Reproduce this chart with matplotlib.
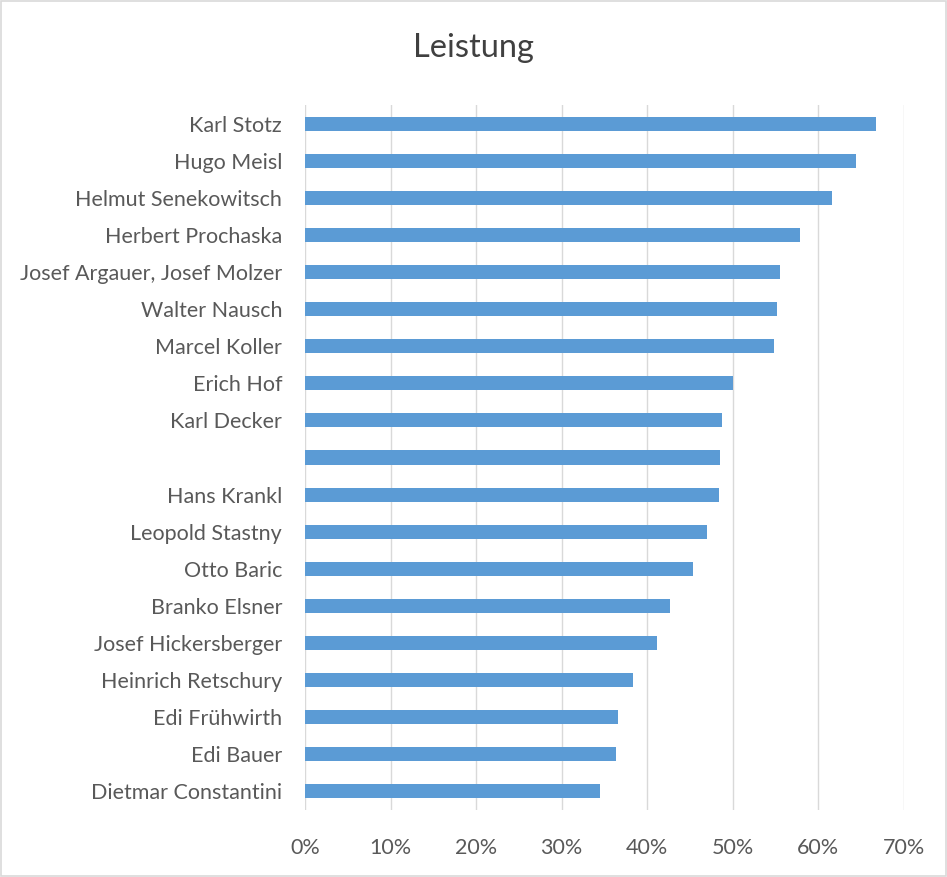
import matplotlib
matplotlib.use("Agg")
import matplotlib.pyplot as plt
from matplotlib.ticker import FuncFormatter, MultipleLocator
from matplotlib.patches import Rectangle

names = [
    "Karl Stotz", "Hugo Meisl", "Helmut Senekowitsch", "Herbert Prochaska",
    "Josef Argauer, Josef Molzer", "Walter Nausch", "Marcel Koller", "Erich Hof",
    "Karl Decker", "", "Hans Krankl", "Leopold Stastny", "Otto Baric",
    "Branko Elsner", "Josef Hickersberger", "Heinrich Retschury",
    "Edi Frühwirth", "Edi Bauer", "Dietmar Constantini",
]
leistung = [
    0.667, 0.644, 0.616, 0.579, 0.555, 0.552, 0.548, 0.500, 0.487, 0.485,
    0.484, 0.470, 0.454, 0.426, 0.411, 0.383, 0.366, 0.363, 0.345,
]
title = "Leistung"

plt.rcParams['font.family'] = ['Lato', 'DejaVu Sans']

fig = plt.figure(figsize=(9.47, 8.77), dpi=100)
ax = fig.add_axes([305/947, 1 - 810/877, (904-305)/947, (810-105)/877])

y = list(range(len(names)))
ax.barh(y, leistung, height=0.38, color="#5B9BD5", zorder=3)
ax.set_yticks(y)
ax.set_yticklabels(names)
ax.set_ylim(len(names) - 0.5, -0.5)
ax.set_xlim(0, 0.70)
ax.xaxis.set_major_locator(MultipleLocator(0.1))
ax.xaxis.set_major_formatter(FuncFormatter(lambda v, p: f"{v*100:.0f}%"))
ax.grid(axis='x', color="#D9D9D9", linewidth=1, zorder=0)
for s in ax.spines.values():
    s.set_visible(False)
ax.tick_params(axis='both', length=0, colors="#595959")
ax.tick_params(axis='y', pad=16.5, labelsize=15.5)
ax.tick_params(axis='x', pad=20, labelsize=15.5)

fig.text(0.5, 1 - 48/877, title, ha='center', va='center', fontsize=23.5, color="#404040")

fig.patches.append(Rectangle((0.001, 0.001), 0.998, 0.998, transform=fig.transFigure,
                             fill=False, edgecolor="#D9D9D9", linewidth=1.2))

fig.savefig("out.png", dpi=100, facecolor="white")
